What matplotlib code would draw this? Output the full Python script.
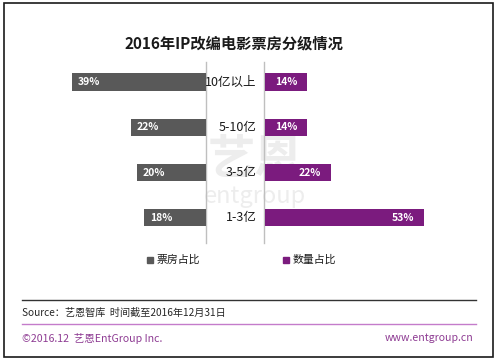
import matplotlib
matplotlib.use("Agg")
import matplotlib.pyplot as plt
from matplotlib.patches import Rectangle
from matplotlib.lines import Line2D

plt.rcParams['font.family'] = ['Noto Sans CJK SC', 'DejaVu Sans']

categories = ["10亿以上", "5-10亿", "3-5亿", "1-3亿"]
box_office_share = [39, 22, 20, 18]   # 票房占比
count_share = [14, 14, 22, 53]        # 数量占比
series_names = ["票房占比", "数量占比"]
title = "2016年IP改编电影票房分级情况"
source = "Source：艺恩智库  时间截至2016年12月31日"
footer_left = "©2016.12  艺恩EntGroup Inc."
footer_right = "www.entgroup.cn"

GRAY = "#595959"
PURPLE = "#7B1B7E"

W, H = 500, 363
fig = plt.figure(figsize=(W / 100, H / 100), dpi=100)

def fx(px):
    return px / W

def fy(py):
    return 1 - py / H

# background / decoration axes
bg = fig.add_axes([0, 0, 1, 1])
bg.set_xlim(0, W)
bg.set_ylim(H, 0)
bg.axis("off")

# border
bg.add_patch(Rectangle((4, 3), 489, 354, fill=False, edgecolor="#1a1a1a", lw=1.2))

# watermark
bg.text(255, 160, "艺恩", fontsize=34, fontweight="bold", color="#EDEDED",
        ha="center", va="center", zorder=0)
bg.text(255, 196, "entgroup", fontsize=17, color="#EDEDED",
        ha="center", va="center", zorder=0)

# title
bg.text(234, 43, title, fontsize=11, fontweight="bold", color="#1a1a1a",
        ha="center", va="center")

# vertical separators
bg.add_line(Line2D([206, 206], [62, 243], color="#BFBFBF", lw=1))
bg.add_line(Line2D([264, 264], [62, 243], color="#BFBFBF", lw=1))

rows = [3, 2, 1, 0]
ylim = (-0.533, 3.444)
bar_h = 0.38

# left axes: 票房占比
axL = fig.add_axes([fx(60), fy(242), fx(206) - fx(60), fy(62) - fy(242)])
axL.barh(rows, box_office_share, height=bar_h, color=GRAY)
axL.set_xlim(146 / 3.43, 0)
axL.set_ylim(*ylim)
axL.axis("off")
for r, v in zip(rows, box_office_share):
    axL.annotate(f"{v}%", (v, r), xytext=(4, 0), textcoords="offset points",
                 ha="left", va="center", color="white", fontsize=7.5,
                 fontweight="bold")

# right axes: 数量占比
axR = fig.add_axes([fx(265), fy(242), fx(440) - fx(265), fy(62) - fy(242)])
axR.barh(rows, count_share, height=bar_h, color=PURPLE)
axR.set_xlim(0, 175 / 3.0)
axR.set_ylim(*ylim)
axR.axis("off")
for r, v in zip(rows, count_share):
    axR.annotate(f"{v}%", (v, r), xytext=(-7, 0), textcoords="offset points",
                 ha="right", va="center", color="white", fontsize=7.5,
                 fontweight="bold")

# category labels
for r, c in zip(rows, categories):
    axR.annotate(c, (0, r), xytext=(-6, 0), textcoords="offset points",
                 ha="right", va="center", color="#1a1a1a", fontsize=9,
                 annotation_clip=False)

# legend
bg.add_patch(Rectangle((147, 257), 6, 6, color=GRAY))
bg.text(157, 260, series_names[0], fontsize=7.8, color="#1a1a1a", va="center", ha="left")
bg.add_patch(Rectangle((283, 257), 6, 6, color=PURPLE))
bg.text(293, 260, series_names[1], fontsize=7.8, color="#1a1a1a", va="center", ha="left")

# footer lines and text
bg.add_line(Line2D([22, 476], [300, 300], color="#333333", lw=1))
bg.text(22, 313, source, fontsize=7.3, color="#262626", va="center", ha="left")
bg.add_line(Line2D([22, 476], [324, 324], color="#C47CCB", lw=1))
bg.text(22, 338, footer_left, fontsize=7.6, color="#8E3C93", va="center", ha="left")
bg.text(473, 338, footer_right, fontsize=7.6, color="#8E3C93", va="center", ha="right")

fig.savefig("out.png", dpi=100)
